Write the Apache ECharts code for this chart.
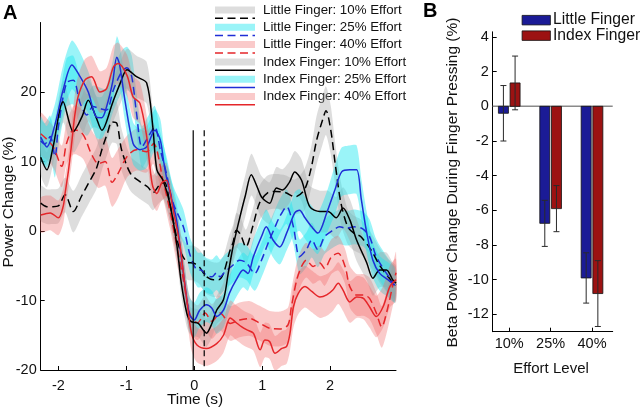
<!DOCTYPE html>
<html><head><meta charset="utf-8">
<script src="https://cdn.jsdelivr.net/npm/echarts@6/dist/echarts.min.js"></script>
<style>html,body{margin:0;padding:0;background:#fff}#c{width:640px;height:410px}</style>
</head><body><div id="c"></div>
<script>
// ---------- Panel A data: [time (s), mean power change (%), shaded half-width (%)] ----------
const littleFinger10 = [[-2.26,4,2.5],[-2.17,3.5,2.5],[-2.08,3.5,2.5],[-2,3.6,2.5],[-1.9,5.2,2.5],[-1.78,2.8,3],[-1.66,5,3],[-1.55,7,3],[-1.44,9,3],[-1.36,11.7,3],[-1.28,14,3],[-1.21,15.7,3],[-1.14,15.5,3],[-1.07,11.7,3],[-0.94,8.3,2.5],[-0.8,7.1,2.5],[-0.68,6.3,2.5],[-0.61,5.5,2.5],[-0.52,6.5,2.5],[-0.44,7,2.5],[-0.36,4,2.5],[-0.28,0,2.5],[-0.2,-3,2.5],[-0.1,-4.5,2.5],[-0.02,-4.6,2.5],[0.07,-5.1,2.5],[0.17,-6.5,2.5],[0.28,-7,2.5],[0.36,-7,2.5],[0.43,-6.1,2.5],[0.52,-3,2.5],[0.57,-1.7,2.5],[0.62,0.1,2.5],[0.68,-0.5,2.5],[0.76,-2.3,2.5],[0.86,0.6,2.5],[0.96,4,2.5],[1.08,5.5,2.5],[1.2,5.7,2.5],[1.35,5.5,2.5],[1.48,4.9,2.5],[1.62,5.9,3],[1.72,9,3],[1.8,13,3.5],[1.89,16,3.5],[1.94,17.3,3.5],[2.01,14.5,3.5],[2.08,9.3,3],[2.16,4,3],[2.26,0.6,2.5],[2.35,-0.3,2.5],[2.45,-0.8,2.5],[2.6,-2.7,2.5],[2.74,-5.1,2.5],[2.89,-7,2.5],[2.97,-7.8,2.5]];
const littleFinger25 = [[-2.26,13,3],[-2.2,12.5,3],[-2.12,13.6,3],[-2.05,10.7,3],[-2,15,3],[-1.88,21.3,3.5],[-1.78,21.7,3.5],[-1.68,18.4,3.5],[-1.58,16.7,3],[-1.49,17.9,3],[-1.38,17.6,3],[-1.29,17.4,3],[-1.19,20.3,3],[-1.07,22.9,3],[-0.99,23.5,3],[-0.92,22.2,3],[-0.85,17,3],[-0.77,12.1,3],[-0.68,13.5,3],[-0.58,15,3],[-0.5,11.7,2.5],[-0.41,8.3,2.5],[-0.31,4,2.5],[-0.16,0.6,2.5],[-0.06,-3.5,2.5],[0.05,-5.6,2.5],[0.1,-5.6,2.5],[0.17,-6.3,2.5],[0.26,-6.6,2.5],[0.33,-6,2.5],[0.38,-6.6,2.5],[0.45,-5.9,2.5],[0.56,-5,2.5],[0.67,-4.2,2.5],[0.77,-4.6,2.5],[0.89,-6.1,2.5],[0.99,-4.2,2.5],[1.09,-1.7,2.5],[1.19,0.6,2.5],[1.26,2.1,2.5],[1.36,3.5,2.5],[1.46,0.6,2.5],[1.55,-3.7,2.5],[1.65,-2.7,2.5],[1.73,-1.3,2.5],[1.82,-2.7,2.5],[1.92,-0.8,2.5],[2.04,0.1,2.5],[2.14,0.6,2.5],[2.24,0.4,2.5],[2.36,0.6,2.5],[2.48,0.3,2.5],[2.58,-0.8,2.5],[2.68,-3.7,2.5],[2.83,-6.1,2.5],[2.95,-7.8,2.5]];
const littleFinger40 = [[-2.26,14,3],[-2.17,13.2,3],[-2.07,12,3],[-1.95,9.3,3],[-1.88,12.6,3],[-1.78,14.5,3.5],[-1.73,14.5,3.5],[-1.63,13.8,3.5],[-1.51,11,3.5],[-1.41,9.7,3.5],[-1.31,10,3.5],[-1.21,7,3.5],[-1.12,8.3,3.5],[-0.99,10.7,3],[-0.85,11.7,3],[-0.7,11.4,3],[-0.6,12.6,3],[-0.46,7.3,2.5],[-0.36,3,2.5],[-0.26,-2,2.5],[-0.16,-7,2.5],[-0.06,-12.1,2.5],[0.05,-13.2,2.5],[0.16,-11.8,2.5],[0.26,-13,2.5],[0.38,-11.8,2.5],[0.53,-13.3,2.5],[0.67,-12.8,2.5],[0.82,-12.6,2.5],[0.97,-13.3,2.5],[1.11,-14,2.5],[1.26,-14.1,2.5],[1.38,-13.5,2.5],[1.43,-10.9,2.5],[1.51,-7,2.5],[1.58,-5.1,2.5],[1.65,-4.2,2.5],[1.75,-5.1,2.5],[1.85,-4.6,2.5],[1.92,-5.4,2.5],[2.02,-3.7,2.5],[2.12,-3.2,2.5],[2.22,-5.1,2.5],[2.29,-8,3],[2.39,-9.2,3],[2.49,-9.2,3],[2.58,-9.7,3],[2.68,-11.8,3],[2.76,-13.8,3],[2.83,-11.8,3],[2.93,-7.5,3],[2.97,-6,3]];
const indexFinger10 = [[-2.26,10.6,2.5],[-2.17,8.8,2.5],[-2.08,12,2.5],[-1.93,18.6,3],[-1.78,14.3,3],[-1.65,16.5,3],[-1.56,18.8,3],[-1.45,16.5,3],[-1.36,14.5,3],[-1.2,18.5,3],[-1.08,21.5,3],[-0.99,23.2,3],[-0.85,22.2,3],[-0.7,21.3,3],[-0.61,15,2.5],[-0.55,8.8,2.5],[-0.46,7.3,2.5],[-0.36,4,2.5],[-0.26,-1.7,2],[-0.19,-7.5,2],[-0.11,-11.8,2],[-0.05,-13,2],[0.06,-13.3,2],[0.13,-14.2,2],[0.18,-14.7,2],[0.26,-13.3,2],[0.33,-11.4,2],[0.43,-9.9,2.5],[0.5,-6.1,2.5],[0.57,-2.3,2.5],[0.66,1.5,3],[0.75,5,3],[0.84,8.1,3],[0.92,6.5,3],[0.99,4.9,3],[1.11,4,3],[1.21,6.2,3],[1.3,5.9,3],[1.4,7,3],[1.48,8.5,3],[1.58,7.3,3],[1.7,3.5,3],[1.85,2.8,3],[1.97,2.8,3],[2.09,1.9,3],[2.19,3.3,3],[2.29,1.6,3],[2.39,-1.3,3],[2.54,-4.6,2.5],[2.63,-6.8,2.5],[2.73,-5.6,2.5],[2.83,-5.6,2.5],[2.92,-7,2.5],[2.97,-7.5,2.5]];
const indexFinger25 = [[-2.26,13.5,3],[-2.17,12.1,3],[-2.05,15.3,3],[-1.93,20.3,3.5],[-1.8,23.9,3.5],[-1.68,22.2,3.5],[-1.56,20,3],[-1.44,16.4,3],[-1.36,16.3,3],[-1.29,17.9,3],[-1.2,21.5,3],[-1.14,25,3],[-1.1,24,3],[-1.02,18.8,3],[-0.9,12.6,3],[-0.8,11.7,3],[-0.7,12.1,3],[-0.58,14.5,3],[-0.5,13.1,3],[-0.45,10,2.5],[-0.4,7.3,2.5],[-0.33,4.5,2.5],[-0.26,1.6,2.5],[-0.2,-3,2.5],[-0.14,-7.5,2.5],[-0.07,-12,2.5],[0,-12.8,2.5],[0.08,-11.4,2.5],[0.18,-10.6,2.5],[0.26,-11.1,2.5],[0.33,-12.3,2.5],[0.43,-11.4,2.5],[0.52,-8.9,2.5],[0.62,-7,2.5],[0.72,-5.6,2.5],[0.79,-6.1,2.5],[0.87,-3.7,2.5],[0.99,-0.8,2.5],[1.06,0.6,2.5],[1.16,-1.3,2.5],[1.26,-2.3,2.5],[1.36,-0.3,2.5],[1.48,2.6,3],[1.55,3,3],[1.63,1.9,3],[1.73,0.6,3],[1.82,-0.3,3],[1.95,2.6,3],[2.07,5.9,3.5],[2.17,8.5,3.5],[2.29,8.8,3.5],[2.39,8.8,3.5],[2.46,4.5,3],[2.54,-0.3,3],[2.63,-4.2,2.5],[2.73,-6.1,2.5],[2.85,-7,2.5],[2.95,-7.8,2.5]];
const indexFinger40 = [[-2.26,2.3,2.5],[-2.12,2.6,2.5],[-2,1.9,2.5],[-1.93,3.5,2.5],[-1.9,5.5,2.5],[-1.85,8.8,2.5],[-1.8,13,3],[-1.76,16.5,3],[-1.71,19.3,3],[-1.61,21.7,3],[-1.51,22.2,3],[-1.39,20,3],[-1.29,20.5,3],[-1.19,23.6,3],[-1.12,24.1,3],[-0.99,22.4,3],[-0.9,19.3,3],[-0.8,18.4,3],[-0.7,13.6,3],[-0.65,9,2.5],[-0.61,6.4,2.5],[-0.55,5.4,2.5],[-0.48,6.9,2.5],[-0.41,7.3,2.5],[-0.31,3,2.5],[-0.21,-2,2.5],[-0.16,-6,2.5],[-0.11,-9.9,2.5],[-0.04,-14.7,2.5],[0.04,-16.4,2.5],[0.18,-16.9,2.5],[0.33,-16.2,2.5],[0.43,-15,2.5],[0.53,-12.5,2.5],[0.62,-13.2,2.5],[0.7,-13.8,2.5],[0.77,-14.2,2.5],[0.87,-14.7,2.5],[0.97,-17.1,2.5],[1.04,-15.7,2.5],[1.11,-15.9,2.5],[1.19,-17.6,2.5],[1.29,-16.9,2.5],[1.36,-16.6,2.5],[1.41,-14.7,2.5],[1.46,-10.9,3],[1.53,-9,3],[1.63,-8,3],[1.73,-8.7,3],[1.85,-9.5,3],[1.95,-9.2,3],[2.04,-8.5,3],[2.12,-7.5,3],[2.19,-8.5,3],[2.29,-10.2,3],[2.39,-9.5,3],[2.49,-9.7,3],[2.58,-10.9,3],[2.68,-12.3,3],[2.78,-10.9,3],[2.88,-8,3],[2.97,-7,3]];
const legendLabels = ['Little Finger: 10% Effort','Little Finger: 25% Effort','Little Finger: 40% Effort','Index Finger: 10% Effort','Index Finger: 25% Effort','Index Finger: 40% Effort'];
const timeTicks = [-2,-1,0,1,2];
const powerTicks = [-20,-10,0,10,20];
const eventTimes = [-0.015, 0.147];   // movement onset (solid) and press (dashed)
const eventTop = 14.5;

// ---------- Panel B data ----------
const effortLevels = ['10%','25%','40%'];
const littleMean = [-0.4,-6.75,-9.9];
const littleErr  = [1.6,1.33,1.45];
const indexMean  = [1.35,-5.9,-10.8];
const indexErr   = [1.55,1.33,1.9];
const betaTicks  = [4,2,0,-2,-4,-6,-8,-10,-12];

// ---------- styles ----------
const FONT = 'Liberation Sans, Arial, sans-serif';
const BAND = {gray:'rgba(160,160,160,0.36)', cyan:'rgba(30,230,240,0.45)', pink:'rgba(240,100,100,0.34)'};
const LINE = {black:'#000000', blue:'#1f2ed6', red:'#e5262a'};
const DASH = [8,4.5];
const specs = [
  {data:littleFinger10, band:BAND.gray, line:LINE.black, dashed:true},
  {data:littleFinger25, band:BAND.cyan, line:LINE.blue, dashed:true},
  {data:littleFinger40, band:BAND.pink, line:LINE.red, dashed:true},
  {data:indexFinger10, band:BAND.gray, line:LINE.black, dashed:false},
  {data:indexFinger25, band:BAND.cyan, line:LINE.blue, dashed:false},
  {data:indexFinger40, band:BAND.pink, line:LINE.red, dashed:false}
];

function bandSeries(data, color){
  return {type:'custom', xAxisIndex:0, yAxisIndex:0, silent:true, clip:true, z:1,
    data: data.map(d=>[d[0], d[1]-d[2], d[1]+d[2]]),
    encode:{x:0, y:[1,2]},
    renderItem:(params, api)=>{
      if(params.dataIndex!==0) return null;
      const up=[], lo=[];
      data.forEach(d=>{ up.push(api.coord([d[0], d[1]+d[2]])); lo.push(api.coord([d[0], d[1]-d[2]])); });
      return {type:'polygon', shape:{points: up.concat(lo.reverse()), smooth:0.25}, style:{fill:color}};
    }};
}
function lineSeries(data, color, dashed){
  return {type:'line', xAxisIndex:0, yAxisIndex:0, data:data.map(d=>[d[0],d[1]]), showSymbol:false, symbol:'none',
    smooth:0.3, silent:true, z:3, lineStyle:{color:color, width:1.5, type: dashed?DASH:'solid'}};
}

const series = [];
specs.forEach(s=>series.push(bandSeries(s.data, s.band)));
specs.forEach(s=>series.push(lineSeries(s.data, s.line, s.dashed)));
// event markers
eventTimes.forEach((t,i)=>series.push({type:'line', xAxisIndex:0, yAxisIndex:0, silent:true, symbol:'none', z:4,
  data:[[t,eventTop],[t,-20]], lineStyle:{color:'#000', width:1.2, type: i===0?'solid':[6,4]}}));

// Panel B bars with error bars
function barSeries(means, errs, offset, color){
  return {type:'custom', xAxisIndex:1, yAxisIndex:1, silent:true, z:3,
    data: means.map((m,i)=>[i+1, m, errs[i]]),
    encode:{x:0, y:1},
    renderItem:(params, api)=>{
      const x = api.value(0)+offset, m = api.value(1), e = api.value(2);
      const a = api.coord([x-0.121, 0]), b = api.coord([x+0.121, m]);
      const top = api.coord([x, m+e]), bot = api.coord([x, m-e]);
      const cap = 3;
      const ls = {stroke:'#2a2a2a', lineWidth:1};
      return {type:'group', children:[
        {type:'rect', shape:{x:Math.min(a[0],b[0]), y:Math.min(a[1],b[1]), width:Math.abs(b[0]-a[0]), height:Math.abs(b[1]-a[1])},
          style:{fill:color, stroke:'#111', lineWidth:0.8}},
        {type:'line', shape:{x1:top[0], y1:top[1], x2:bot[0], y2:bot[1]}, style:ls},
        {type:'line', shape:{x1:top[0]-cap, y1:top[1], x2:top[0]+cap, y2:top[1]}, style:ls},
        {type:'line', shape:{x1:bot[0]-cap, y1:bot[1], x2:bot[0]+cap, y2:bot[1]}, style:ls}
      ]};
    }};
}
series.push({type:'line', xAxisIndex:1, yAxisIndex:1, silent:true, symbol:'none', z:2,
  data:[[0.6,0],[3.5,0]], lineStyle:{color:'#8a8a8a', width:1.5}});
series.push(barSeries(littleMean, littleErr, -0.141, '#1b1b96'));
series.push(barSeries(indexMean, indexErr, 0.141, '#9c1212'));

// legend graphics
const graphic = [];
legendLabels.forEach((lab,i)=>{
  const ty = 10 + 17.3*i, s = specs[i];
  graphic.push({type:'rect', left:215, top:ty-3.5, shape:{width:40, height:7}, style:{fill:s.band}});
  graphic.push({type:'line', shape:{x1:215, y1:ty+8.3, x2:255, y2:ty+8.3}, style:{stroke:s.line, lineWidth:1.5, lineDash: s.dashed?DASH:null}});
  graphic.push({type:'text', x:263, y:ty, style:{text:lab, font:'13.3px '+FONT, fill:'#111', textVerticalAlign:'middle'}});
});
graphic.push({type:'text', x:3, y:13, style:{text:'A', font:'bold 20px '+FONT, fill:'#000', textVerticalAlign:'middle'}});
graphic.push({type:'text', x:423, y:11, style:{text:'B', font:'bold 20px '+FONT, fill:'#000', textVerticalAlign:'middle'}});
graphic.push({type:'text', x:8.5, y:202, rotation:Math.PI/2, style:{text:'Power Change (%)', font:'15.5px '+FONT, fill:'#111', textAlign:'center', textVerticalAlign:'middle'}});
graphic.push({type:'text', x:195, y:400, style:{text:'Time (s)', font:'15.5px '+FONT, fill:'#111', textAlign:'center', textVerticalAlign:'middle'}});
graphic.push({type:'text', x:453, y:182.5, rotation:Math.PI/2, style:{text:'Beta Power Change During Finger Pressing (%)', font:'15.5px '+FONT, fill:'#111', textAlign:'center', textVerticalAlign:'middle'}});
graphic.push({type:'text', x:551, y:369, style:{text:'Effort Level', font:'15px '+FONT, fill:'#111', textAlign:'center', textVerticalAlign:'middle'}});
// panel B legend
graphic.push({type:'rect', left:521.7, top:15, shape:{width:28.3, height:9.5}, style:{fill:'#1b1b96', stroke:'#111', lineWidth:0.8}});
graphic.push({type:'rect', left:521.7, top:30.5, shape:{width:28.3, height:9.5}, style:{fill:'#9c1212', stroke:'#111', lineWidth:0.8}});
graphic.push({type:'text', x:553, y:20, style:{text:'Little Finger', font:'15.7px '+FONT, fill:'#111', textVerticalAlign:'middle'}});
graphic.push({type:'text', x:553, y:36, style:{text:'Index Finger', font:'15.7px '+FONT, fill:'#111', textVerticalAlign:'middle'}});

const axisCommon = {
  axisLine:{show:true, onZero:false, lineStyle:{color:'#000', width:1}},
  axisTick:{show:true, inside:true, length:4, lineStyle:{color:'#000'}},
  splitLine:{show:false}
};
const labelStyle = {color:'#111', fontSize:14.5, fontFamily:FONT};

const option = {
  animation:false,
  backgroundColor:'#fff',
  grid:[
    {left:40.7, top:22.5, width:355.3, height:347.5},
    {left:492.7, top:31.8, width:120, height:299.9}
  ],
  xAxis:[
    Object.assign({}, axisCommon, {type:'value', gridIndex:0, min:-2.26, max:2.97,
      axisTick:Object.assign({}, axisCommon.axisTick, {customValues:timeTicks}),
      axisLabel:Object.assign({}, labelStyle, {margin:8, customValues:timeTicks})}),
    Object.assign({}, axisCommon, {type:'value', gridIndex:1, min:0.6, max:3.5,
      axisTick:Object.assign({}, axisCommon.axisTick, {customValues:[1,2,3]}),
      axisLabel:Object.assign({}, labelStyle, {margin:5, customValues:[1,2,3], formatter:v=>effortLevels[Math.round(v)-1]})})
  ],
  yAxis:[
    Object.assign({}, axisCommon, {type:'value', gridIndex:0, min:-20, max:30,
      axisTick:Object.assign({}, axisCommon.axisTick, {customValues:powerTicks}),
      axisLabel:Object.assign({}, labelStyle, {margin:4, customValues:powerTicks})}),
    Object.assign({}, axisCommon, {type:'value', gridIndex:1, min:-13, max:4.3,
      axisTick:Object.assign({}, axisCommon.axisTick, {customValues:betaTicks}),
      axisLabel:Object.assign({}, labelStyle, {margin:4, customValues:betaTicks})})
  ],
  graphic: graphic,
  series: series
};
const chart = echarts.init(document.getElementById('c'), null, {renderer:'canvas'});
chart.setOption(option);
</script>
</body></html>
